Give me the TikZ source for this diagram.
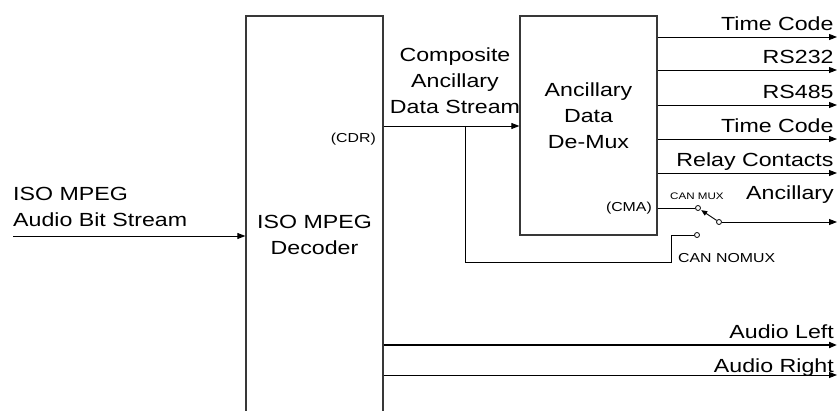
\documentclass[tikz,border=0pt]{standalone}
\usepackage{fontspec}
\setmainfont{Liberation Sans}[FakeStretch=1.22]
\usetikzlibrary{arrows.meta,positioning,calc}
\definecolor{bxdark}{HTML}{383838}

\begin{document}
\begin{tikzpicture}[
  x=1pt, y=-1pt,
  block/.style={rectangle, draw=bxdark, line width=1.3pt, minimum width=137pt, inner sep=0pt},
  lbl/.style={font=\fontsize{19}{26}\selectfont, inner sep=0pt, align=center},
  small/.style={font=\fontsize{13}{15}\selectfont, inner sep=0pt},
  tiny/.style={font=\fontsize{9.5}{11}\selectfont, inner sep=0pt},
  wire/.style={line width=0.9pt},
  arr/.style={-{Triangle[length=8pt,width=6pt]}, wire},
  contact/.style={circle, draw, fill=white, line width=0.8pt, minimum size=5pt, inner sep=0pt}
]
\useasboundingbox (0,0) rectangle (840,411);

% the two blocks
\node[block, minimum height=397pt] (dec) at (314.5,214.5) {};
\node[block, minimum height=219pt] (dmx) at (588.5,125.5) {};
\node[lbl, anchor=base] (dectxt) at (dec.center |- 0,255) {ISO MPEG\\Decoder};
\node[lbl, anchor=base] (dmxtxt) at (dmx.center |- 0,149) {Ancillary\\Data\\De-Mux};

% input
\node[lbl, anchor=base west, align=left] (src) at (13,227) {ISO MPEG\\Audio Bit Stream};
\coordinate (in) at (13,236);
\draw[arr] (in) -- (in -| dec.west);

% composite ancillary data stream
\coordinate (yc) at (0,126);
\draw[arr] (dec.east |- yc) -- (dmx.west |- yc);
\node[small, anchor=base east] (cdr) at (376,143) {(CDR)};
\node[lbl, anchor=base] (cads) at (455,114) {Composite\\Ancillary\\Data Stream};

% demux outputs
\foreach \y/\t [count=\i] in {37/Time Code, 70/RS232, 105/RS485, 139/Time Code, 173/Relay Contacts} {
  \coordinate (o\i) at (837,\y);
  \draw[arr] (dmx.east |- o\i) -- (o\i)
    node[lbl, anchor=base east, xshift=-3pt, yshift=6.5pt] {\t};
}

% switch
\node[contact] (cma) at (698,208) {};
\node[contact] (nomux) at (697,235) {};
\node[contact] (pole) at (719,222) {};
\node[small, anchor=base east] (cmatxt) at (652,212) {(CMA)};
\draw[wire] (dmx.east |- cma) -- (cma);
\draw[-{Triangle[length=6pt,width=5pt]}, wire, shorten >=1pt] (pole) -- (cma);
\coordinate (tap) at (465,126);
\coordinate (low) at (671,262);
\draw[wire] (tap) |- (low) |- (nomux);
\node[tiny, anchor=base west] (canmux) at (670,200) {CAN MUX};
\node[small, anchor=base west] (cannomux) at (678,263) {CAN NOMUX};
\coordinate (oanc) at (837,222);
\draw[arr] (pole) -- (oanc);
\node[lbl, anchor=base east] (anc) at (834,200) {Ancillary};

% audio outputs
\coordinate (al) at (837,345);
\coordinate (ar) at (837,375);
\draw[arr, line width=1.8pt] (dec.east |- al) -- (al);
\draw[arr] (dec.east |- ar) -- (ar);
\node[lbl, anchor=base east] (altxt) at (834,338) {Audio Left};
\node[lbl, anchor=base east] (artxt) at (834,372) {Audio Right};
\end{tikzpicture}
\end{document}
